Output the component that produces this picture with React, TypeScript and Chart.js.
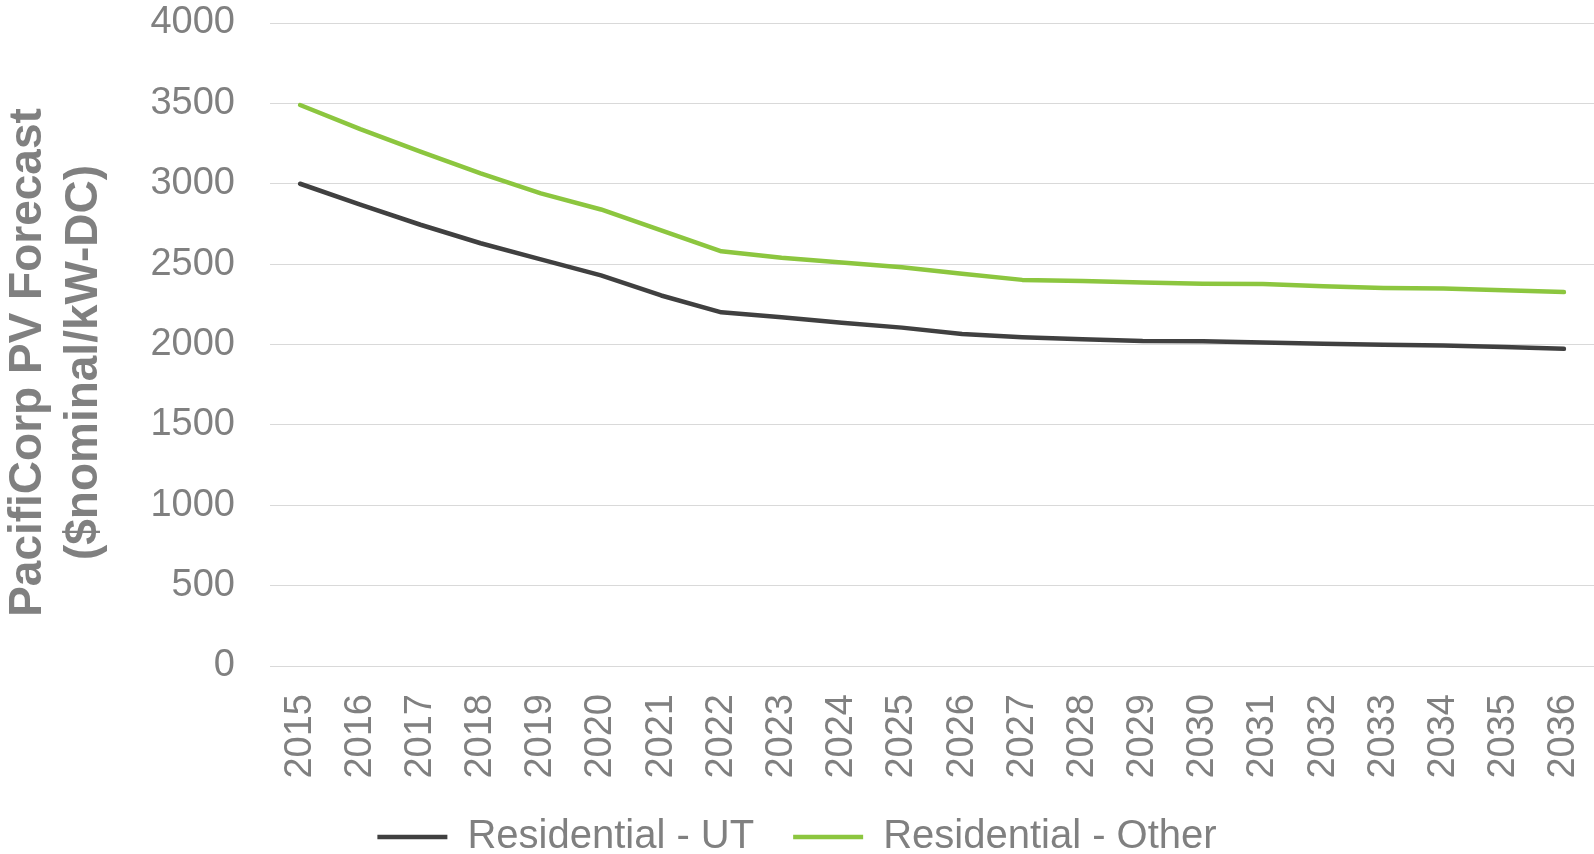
import React, { useEffect, useRef } from 'react';
import { Chart, registerables } from 'chart.js';

Chart.register(...registerables);

const years = [
  '2015', '2016', '2017', '2018', '2019', '2020', '2021', '2022', '2023', '2024', '2025',
  '2026', '2027', '2028', '2029', '2030', '2031', '2032', '2033', '2034', '2035', '2036',
];

const residentialUT = [
  3000, 2870, 2745, 2630, 2530, 2430, 2305, 2200, 2170, 2135, 2105,
  2065, 2045, 2033, 2022, 2020, 2012, 2005, 1998, 1994, 1984, 1973,
];

const residentialOther = [
  3490, 3340, 3200, 3065, 2940, 2840, 2710, 2580, 2540, 2510, 2480,
  2440, 2402, 2395, 2385, 2378, 2376, 2362, 2352, 2348, 2337, 2326,
];

const seriesNames = ['Residential - UT', 'Residential - Other'];
const yTitleLines = ['PacifiCorp PV Forecast', '($nominal/kW-DC)'];
const yMin = 0;
const yMax = 4000;
const yStep = 500;

const FONT = '"Liberation Sans", Arial, Helvetica, sans-serif';
const TEXT_GRAY = '#808080';

const yTitlePlugin = {
  id: 'yTitleTwoLines',
  afterDraw(chart: any) {
    const ctx = chart.ctx;
    const area = chart.chartArea;
    const cy = (area.top + area.bottom) / 2 + 18;
    const baselines = [41, 97];
    ctx.save();
    ctx.fillStyle = TEXT_GRAY;
    ctx.font = `bold 46px ${FONT}`;
    ctx.textAlign = 'center';
    ctx.textBaseline = 'alphabetic';
    yTitleLines.forEach((line, i) => {
      ctx.save();
      ctx.translate(baselines[i], cy);
      ctx.rotate(-Math.PI / 2);
      ctx.fillText(line, 0, 0);
      ctx.restore();
    });
    ctx.restore();
  },
};

export default function App() {
  const canvasRef = useRef<HTMLCanvasElement | null>(null);

  useEffect(() => {
    if (!canvasRef.current) return;
    Chart.defaults.font.family = FONT;
    const chart = new Chart(canvasRef.current, {
      type: 'line',
      data: {
        labels: years,
        datasets: [
          {
            label: seriesNames[0],
            data: residentialUT,
            borderColor: '#404040',
            backgroundColor: '#404040',
            borderWidth: 4.5,
            pointRadius: 0,
            tension: 0,
            borderCapStyle: 'round',
            borderJoinStyle: 'round',
          },
          {
            label: seriesNames[1],
            data: residentialOther,
            borderColor: '#8cc63f',
            backgroundColor: '#8cc63f',
            borderWidth: 4.5,
            pointRadius: 0,
            tension: 0,
            borderCapStyle: 'round',
            borderJoinStyle: 'round',
          },
        ],
      },
      options: {
        animation: false,
        responsive: false,
        layout: { padding: { top: 23, left: 0, right: 0, bottom: 0 } },
        plugins: {
          legend: {
            position: 'bottom',
            maxHeight: 76,
            labels: {
              usePointStyle: true,
              pointStyle: 'line',
              pointStyleWidth: 70,
              padding: 39,
              color: TEXT_GRAY,
              font: { size: 40, family: FONT },
            },
          },
          tooltip: { enabled: false },
        },
        scales: {
          x: {
            type: 'category',
            offset: true,
            grid: { display: false, drawTicks: false },
            border: { display: false },
            ticks: {
              minRotation: 90,
              maxRotation: 90,
              autoSkip: false,
              padding: 28,
              color: TEXT_GRAY,
              font: { size: 38, family: FONT },
            },
            afterFit: (s: any) => {
              s.height = 112;
              s.paddingLeft = 0;
              s.paddingRight = 0;
            },
          },
          y: {
            min: yMin,
            max: yMax,
            ticks: {
              stepSize: yStep,
              padding: 35,
              color: TEXT_GRAY,
              font: { size: 38, family: FONT },
              callback: (v: any) => String(v),
            },
            grid: { color: '#d9d9d9', lineWidth: 1, drawTicks: false },
            border: { display: false },
            afterFit: (s: any) => {
              s.width = 270;
              s.paddingTop = 0;
              s.paddingBottom = 0;
            },
          },
        },
      },
      plugins: [yTitlePlugin],
    } as any);
    return () => chart.destroy();
  }, []);

  return (
    <div style={{ position: 'fixed', left: 0, top: 0, width: 1594, height: 854, background: '#ffffff' }}>
      <canvas ref={canvasRef} width={1594} height={854} style={{ display: 'block', width: 1594, height: 854 }} />
    </div>
  );
}
